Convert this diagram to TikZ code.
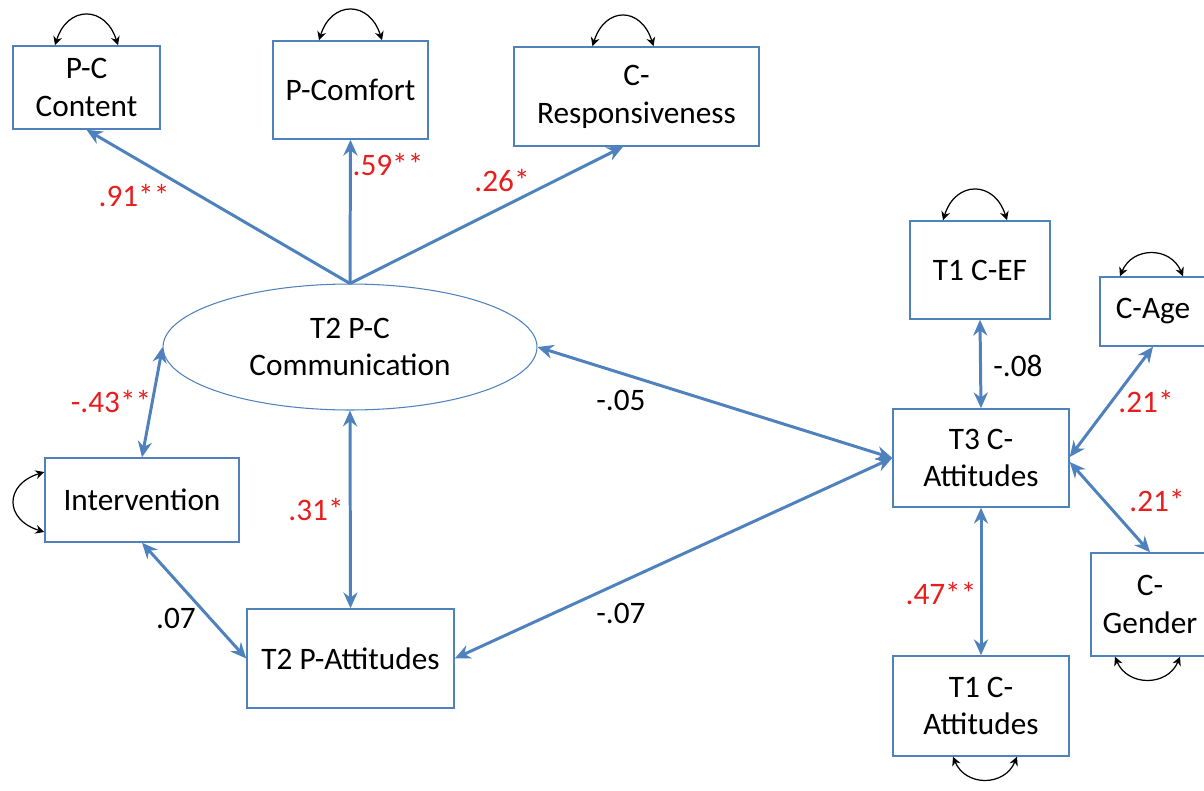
\documentclass[tikz,border=0pt]{standalone}
\usepackage{fontspec}
\setmainfont{Carlito}
\usetikzlibrary{arrows.meta, shapes.geometric}
\definecolor{semblue}{RGB}{79,129,189}
\definecolor{semred}{RGB}{232,30,30}
\tikzset{
  var/.style={draw=semblue, line width=0.85pt, align=center, inner sep=0pt,
    font=\fontsize{17.8}{21.5}\selectfont},
  latent/.style={var, ellipse, line width=0.6pt},
  path/.style={semblue, line width=1.7pt, -{Stealth[length=9pt,width=8pt]}},
  covar/.style={path, {Stealth[length=9pt,width=8pt]}-{Stealth[length=9pt,width=8pt]}},
  resid/.style={black, line width=0.7pt, {Stealth[length=5pt,width=5pt]}-{Stealth[length=5pt,width=5pt]}},
  coef/.style={font=\fontsize{17.8}{21.5}\selectfont, inner sep=0pt},
  sig/.style={coef, text=semred}
}

\begin{document}
\begin{tikzpicture}[x=0.02cm, y=-0.02cm]
  \useasboundingbox (0,0) rectangle (1204,791);
  % measured model
  \node[latent, minimum width=7.48cm, minimum height=2.52cm] (comm) at (350,347)
    {T2 P-C\\Communication};
  \node[var, minimum width=2.94cm, minimum height=1.66cm] (pcc) at (86.5,87.5)
    {P-C\\Content};
  \node[var, minimum width=3.1cm, minimum height=1.96cm] (pcomf) at (350.5,90)
    {P-Comfort};
  \node[var, minimum width=4.9cm, minimum height=1.98cm] (cresp) at (636.5,96.5)
    {C-\\Responsiveness};
  \node[var, minimum width=3.88cm, minimum height=1.68cm] (interv) at (142,500)
    {Intervention};
  \node[var, minimum width=4.14cm, minimum height=1.98cm] (patt) at (350.5,658.5)
    {T2 P-Attitudes};
  \node[var, minimum width=2.8cm, minimum height=1.96cm] (cef) at (980,270)
    {T1 C-EF};
  \node[var, minimum width=2.12cm, minimum height=1.38cm] (cage) at (1153,311.5)
    {C-Age};
  \node[var, minimum width=3.52cm, minimum height=1.96cm] (catt3) at (981,458)
    {T3 C-\\Attitudes};
  \node[var, minimum width=3.52cm, minimum height=2cm] (catt1) at (981,706)
    {T1 C-\\Attitudes};
  \node[var, minimum width=2.36cm, minimum height=2.06cm] (cgend) at (1150,604.5)
    {C-\\Gender};
  % paths
  \draw[path] (comm.north) -- (pcc.south);
  \draw[path] (comm.north) -- (pcomf.south);
  \draw[path] (comm.north) -- ([xshift=-0.27cm]cresp.south);
  \draw[covar] (interv.north) -- (comm.west);
  \draw[covar] (comm.south) -- (patt.north);
  \draw[covar] (interv.south) -- (patt.west);
  \draw[covar] (comm.east) -- (catt3.west);
  \draw[covar] (patt.east) -- (catt3.west);
  \draw[covar] (cef.south) -- (catt3.north);
  \draw[covar] (cage.south) -- ([yshift=0.02cm]catt3.east);
  \draw[covar] ([yshift=-0.08cm]catt3.east) -- (cgend.north);
  \draw[covar] (catt3.south) -- (catt1.north);
  % residual variances
  \draw[resid] ([xshift=-0.63cm]pcc.north) .. controls +(0.25cm,0.8cm) and +(-0.25cm,0.8cm) .. ([xshift=0.63cm]pcc.north);
  \draw[resid] ([xshift=-0.63cm]pcomf.north) .. controls +(0.25cm,0.8cm) and +(-0.25cm,0.8cm) .. ([xshift=0.63cm]pcomf.north);
  \draw[resid] ([xshift=-0.88cm]cresp.north) .. controls +(0.25cm,0.8cm) and +(-0.25cm,0.8cm) .. ([xshift=0.34cm]cresp.north);
  \draw[resid] ([xshift=-0.74cm]cef.north) .. controls +(0.25cm,0.8cm) and +(-0.25cm,0.8cm) .. ([xshift=0.54cm]cef.north);
  \draw[resid] ([xshift=-0.66cm]cage.north) .. controls +(0.25cm,0.6cm) and +(-0.25cm,0.6cm) .. ([xshift=0.6cm]cage.north);
  \draw[resid] ([xshift=-0.7cm]cgend.south) .. controls +(0.25cm,-0.6cm) and +(-0.25cm,-0.6cm) .. ([xshift=0.6cm]cgend.south);
  \draw[resid] ([xshift=-0.56cm]catt1.south) .. controls +(0.25cm,-0.6cm) and +(-0.25cm,-0.6cm) .. ([xshift=0.72cm]catt1.south);
  \draw[resid] ([yshift=0.56cm]interv.west) .. controls +(-0.8cm,-0.25cm) and +(-0.8cm,0.25cm) .. ([yshift=-0.64cm]interv.west);
  % coefficients
  \node[sig] (c91) at (134,196) {.91**};
  \node[sig] (c59) at (388,165) {.59**};
  \node[sig] (c26) at (502,181) {.26*};
  \node[sig] (c43) at (111,402) {-.43**};
  \node[sig] (c31) at (316,510) {.31*};
  \node[coef] (c07) at (176,618) {.07};
  \node[coef] (c05) at (621,400) {-.05};
  \node[coef] (c07b) at (621,613) {-.07};
  \node[coef] (c08) at (1018,366) {-.08};
  \node[sig] (c21a) at (1146,402) {.21*};
  \node[sig] (c21b) at (1157,501) {.21*};
  \node[sig] (c47) at (941,594) {.47**};
\end{tikzpicture}
\end{document}
